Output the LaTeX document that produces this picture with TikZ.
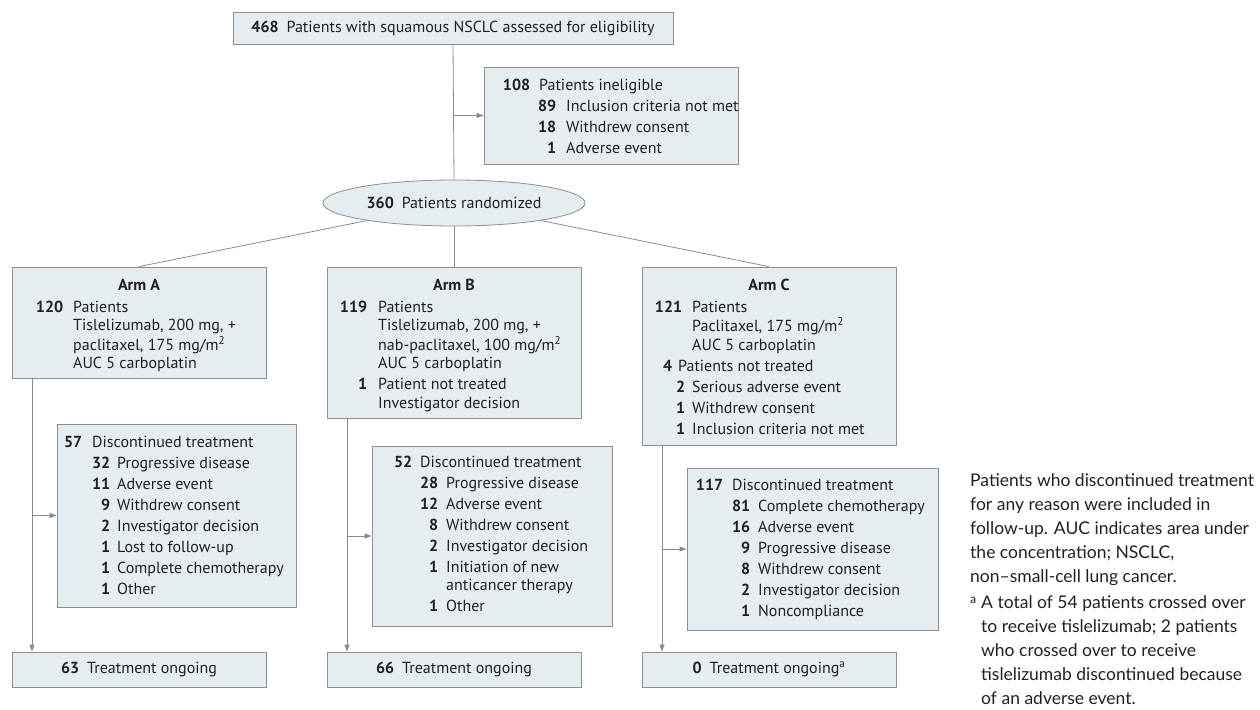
\documentclass[tikz,border=0pt]{standalone}
\usepackage{fontspec}
\setmainfont{PT Sans}
\newfontfamily\fnfont{Lato}
\usetikzlibrary{shapes.geometric,arrows.meta}
\definecolor{boxfill}{HTML}{E5EDF1}
\definecolor{boxline}{HTML}{8E8E8E}
\definecolor{connc}{HTML}{8A8A8A}
\definecolor{txt}{HTML}{231F20}
\newcommand\nb[2]{\makebox[#1][r]{\textbf{#2}}}
\begin{document}
\begin{tikzpicture}[x=1pt,y=-1pt,
  font=\fontsize{16}{18.5}\selectfont, text=txt,
  box/.style={draw=boxline, fill=boxfill, line width=0.8pt, inner sep=0pt, rectangle},
  blk/.style={anchor=base west, inner sep=0pt},
  conn/.style={draw=connc, line width=0.8pt},
  arr/.style={conn, -{Triangle[length=7pt,width=5pt]}},
  note/.style={anchor=base west, inner sep=0pt, align=left, font=\fnfont\fontsize{17.5}{24}\selectfont}]
\useasboundingbox (0,0) rectangle (1260,709);

% boxes
\node[box, minimum width=440pt, minimum height=32pt] (top) at (453,28)
  {\textbf{468}\hspace{8pt}Patients with squamous NSCLC assessed for eligibility};
\node[box, minimum width=254pt, minimum height=97pt] (inel) at (611,115.5) {};
\node[ellipse, draw=boxline, fill=boxfill, line width=0.8pt, minimum width=262pt, minimum height=46pt, inner sep=0pt] (rand) at (454,203)
  {\textbf{360}\hspace{8pt}Patients randomized};
\node[box, minimum width=254pt, minimum height=111pt] (armA) at (139,322.5) {};
\node[box, minimum width=254pt, minimum height=151pt] (armB) at (454,342.5) {};
\node[box, minimum width=254pt, minimum height=178pt] (armC) at (769,356) {};
\node[box, minimum width=239pt, minimum height=183pt] (discA) at (176.5,515.5) {};
\node[box, minimum width=240pt, minimum height=180pt] (discB) at (492,536) {};
\node[box, minimum width=251pt, minimum height=162pt] (discC) at (812.5,549) {};
\node[box, minimum width=254pt, minimum height=35pt] (ongA) at (139,669.5) {\textbf{63}\hspace{8pt}Treatment ongoing};
\node[box, minimum width=254pt, minimum height=35pt] (ongB) at (454,669.5) {\textbf{66}\hspace{8pt}Treatment ongoing};
\node[box, minimum width=254pt, minimum height=35pt] (ongC) at (769,669.5) {\textbf{0}\hspace{8pt}Treatment ongoing\textsuperscript{a}};

% box texts
\node[blk] (inelT) at (505,90) {\begin{tabular}[t]{@{}l@{}}
\nb{25pt}{108}\hspace{9pt}Patients ineligible\\[2.5pt]
\nb{51pt}{89}\hspace{10pt}Inclusion criteria not met\\[2.5pt]
\nb{51pt}{18}\hspace{10pt}Withdrew consent\\[2.5pt]
\nb{51pt}{1}\hspace{10pt}Adverse event
\end{tabular}};

\node[anchor=base, inner sep=0pt] (armAT) at (139,290) {\textbf{Arm A}};
\node[anchor=base, inner sep=0pt] (armBT) at (454,290) {\textbf{Arm B}};
\node[anchor=base, inner sep=0pt] (armCT) at (769,290) {\textbf{Arm C}};

\node[blk] (armAx) at (37,312) {\begin{tabular}[t]{@{}l@{}}
\nb{26pt}{120}\hspace{10pt}Patients\\
\hspace{36pt}Tislelizumab, 200 mg, +\\
\hspace{36pt}paclitaxel, 175 mg/m\textsuperscript{2}\\
\hspace{36pt}AUC 5 carboplatin
\end{tabular}};

\node[blk] (armBx) at (342,312) {\begin{tabular}[t]{@{}l@{}}
\nb{25pt}{119}\hspace{11pt}Patients\\
\hspace{36pt}Tislelizumab, 200 mg, +\\
\hspace{36pt}nab-paclitaxel, 100 mg/m\textsuperscript{2}\\
\hspace{36pt}AUC 5 carboplatin\\[2.5pt]
\nb{25pt}{1}\hspace{11pt}Patient not treated\\
\hspace{36pt}Investigator decision
\end{tabular}};

\node[blk] (armCx) at (652,312) {\begin{tabular}[t]{@{}l@{}}
\nb{30pt}{121}\hspace{10pt}Patients\\
\hspace{40pt}Paclitaxel, 175 mg/m\textsuperscript{2}\\
\hspace{40pt}AUC 5 carboplatin\\[2.5pt]
\nb{20pt}{4}\hspace{6pt}Patients not treated\\[2.5pt]
\nb{33pt}{2}\hspace{7pt}Serious adverse event\\[2.5pt]
\nb{33pt}{1}\hspace{7pt}Withdrew consent\\[2.5pt]
\nb{33pt}{1}\hspace{7pt}Inclusion criteria not met
\end{tabular}};

\node[blk] (discAx) at (66,447) {\begin{tabular}[t]{@{}l@{}}
\nb{16pt}{57}\hspace{10pt}Discontinued treatment\\[2.5pt]
\nb{44pt}{32}\hspace{7pt}Progressive disease\\[2.5pt]
\nb{44pt}{11}\hspace{7pt}Adverse event\\[2.5pt]
\nb{44pt}{9}\hspace{7pt}Withdrew consent\\[2.5pt]
\nb{44pt}{2}\hspace{7pt}Investigator decision\\[2.5pt]
\nb{44pt}{1}\hspace{7pt}Lost to follow-up\\[2.5pt]
\nb{44pt}{1}\hspace{7pt}Complete chemotherapy\\[2.5pt]
\nb{44pt}{1}\hspace{7pt}Other
\end{tabular}};

\node[blk] (discBx) at (395,467) {\begin{tabular}[t]{@{}l@{}}
\nb{17pt}{52}\hspace{8pt}Discontinued treatment\\[2.5pt]
\nb{43pt}{28}\hspace{8pt}Progressive disease\\[2.5pt]
\nb{43pt}{12}\hspace{8pt}Adverse event\\[2.5pt]
\nb{43pt}{8}\hspace{8pt}Withdrew consent\\[2.5pt]
\nb{43pt}{2}\hspace{8pt}Investigator decision\\[2.5pt]
\nb{43pt}{1}\hspace{8pt}Initiation of new\\
\hspace{51pt}anticancer therapy\\[2.5pt]
\nb{43pt}{1}\hspace{8pt}Other
\end{tabular}};

\node[blk] (discCx) at (698,490) {\begin{tabular}[t]{@{}l@{}}
\nb{25pt}{117}\hspace{9pt}Discontinued treatment\\[2.5pt]
\nb{52pt}{81}\hspace{8pt}Complete chemotherapy\\[2.5pt]
\nb{52pt}{16}\hspace{8pt}Adverse event\\[2.5pt]
\nb{52pt}{9}\hspace{8pt}Progressive disease\\[2.5pt]
\nb{52pt}{8}\hspace{8pt}Withdrew consent\\[2.5pt]
\nb{52pt}{2}\hspace{8pt}Investigator decision\\[2.5pt]
\nb{52pt}{1}\hspace{8pt}Noncompliance
\end{tabular}};

% connectors
\draw[conn] (top.south) -- (rand.north);
\draw[arr] (top.south |- inel.west) -- (inel.west);
\draw[conn] (rand) -- (armA.north);
\draw[conn] (rand) -- (armB.north);
\draw[conn] (rand) -- (armC.north);

\coordinate (vA) at (32,0);
\coordinate (vB) at (347,0);
\coordinate (vC) at (662,0);
\draw[arr] (vA |- armA.south) -- (vA |- ongA.north);
\draw[arr] (vA |- discA.west) -- (discA.west);
\draw[arr] (vB |- armB.south) -- (vB |- ongB.north);
\draw[arr] (vB |- discB.west) -- (discB.west);
\draw[arr] (vC |- armC.south) -- (vC |- ongC.north);
\draw[arr] (vC |- discC.west) -- (discC.west);

% notes (base anchor = baseline of the last line)
\node[note] (noteA) at (970,582) {Patients who discontinued treatment\\for any reason were included in\\follow-up. AUC indicates area under\\the concentration; NSCLC,\\non–small-cell lung cancer.};
\node[note] (noteMark) at (970,610) {\textsuperscript{a}};
\node[note] (noteB) at (981,704) {A total of 54 patients crossed over\\to receive tislelizumab; 2 patients\\who crossed over to receive\\tislelizumab discontinued because\\of an adverse event.};
\end{tikzpicture}
\end{document}
